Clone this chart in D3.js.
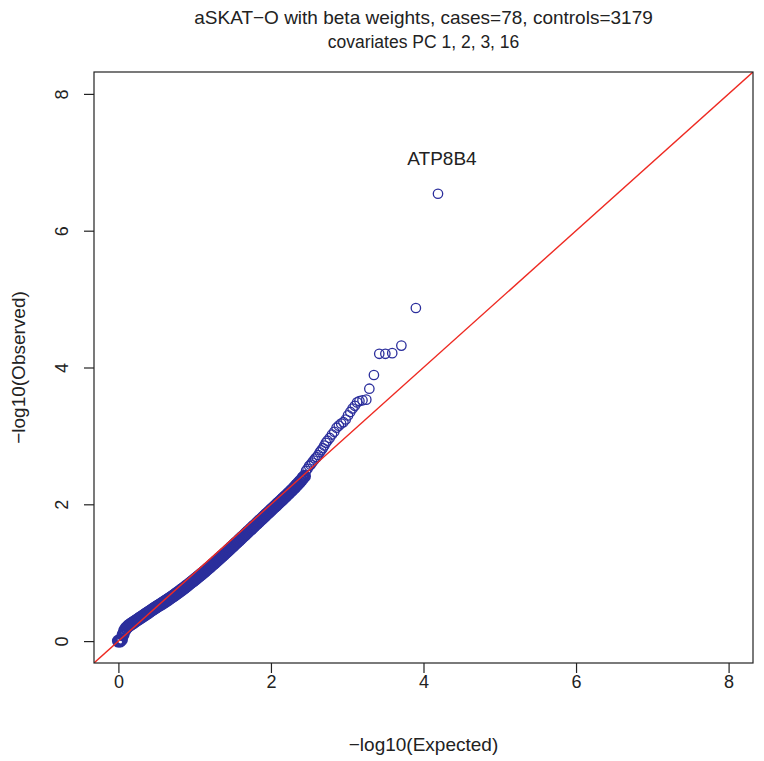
<!DOCTYPE html>
<html>
<head>
<meta charset="utf-8">
<script src="https://cdn.jsdelivr.net/npm/d3@7/dist/d3.min.js"></script>
<style>
  html, body { margin: 0; padding: 0; background: #fff; }
  svg { display: block; }
  text { font-family: "Liberation Sans", Arial, Helvetica, sans-serif; fill: #222; }
  .axis path, .axis line { stroke: #222; stroke-width: 1.2px; }
  .axis text { font-size: 18px; fill: #222; }
</style>
</head>
<body>
<svg id="svg"></svg>
<script>
// dense part of the curve
var denseExpected = [
  0.00, 0.02, 0.04, 0.06, 0.08, 0.10, 0.12, 0.14, 0.16, 0.18,
  0.20, 0.22, 0.24, 0.26, 0.28, 0.30, 0.32, 0.34, 0.36, 0.38,
  0.40, 0.42, 0.44, 0.46, 0.48, 0.50, 0.52, 0.54, 0.56, 0.58,
  0.60, 0.62, 0.64, 0.66, 0.68, 0.70, 0.72, 0.74, 0.76, 0.78,
  0.80, 0.82, 0.84, 0.86, 0.88, 0.90, 0.92, 0.94, 0.96, 0.98,
  1.00, 1.02, 1.04, 1.06, 1.08, 1.10, 1.12, 1.14, 1.16, 1.18,
  1.20, 1.22, 1.24, 1.26, 1.28, 1.30, 1.32, 1.34, 1.36, 1.38,
  1.40, 1.42, 1.44, 1.46, 1.48, 1.50, 1.52, 1.54, 1.56, 1.58,
  1.60, 1.62, 1.64, 1.66, 1.68, 1.70, 1.72, 1.74, 1.76, 1.78,
  1.80, 1.82, 1.84, 1.86, 1.88, 1.90, 1.92, 1.94, 1.96, 1.98,
  2.00, 2.02, 2.04, 2.06, 2.08, 2.10, 2.12, 2.14, 2.16, 2.18,
  2.20, 2.22, 2.24, 2.26, 2.28, 2.30, 2.32, 2.34, 2.36, 2.38,
  2.40, 2.42, 2.44
];
var denseObserved = [
  0.000, 0.000, 0.020, 0.090, 0.150, 0.185, 0.210, 0.230, 0.245, 0.260,
  0.275, 0.290, 0.305, 0.320, 0.335, 0.350, 0.365, 0.380, 0.395, 0.410,
  0.425, 0.440, 0.455, 0.470, 0.485, 0.500, 0.514, 0.528, 0.542, 0.556,
  0.570, 0.585, 0.600, 0.615, 0.630, 0.645, 0.661, 0.677, 0.693, 0.709,
  0.725, 0.742, 0.759, 0.776, 0.793, 0.810, 0.828, 0.846, 0.864, 0.882,
  0.900, 0.918, 0.936, 0.954, 0.972, 0.990, 1.009, 1.028, 1.047, 1.066,
  1.085, 1.105, 1.125, 1.145, 1.165, 1.185, 1.205, 1.225, 1.245, 1.265,
  1.285, 1.306, 1.327, 1.348, 1.369, 1.390, 1.411, 1.432, 1.453, 1.474,
  1.495, 1.516, 1.537, 1.558, 1.579, 1.600, 1.621, 1.642, 1.663, 1.684,
  1.705, 1.726, 1.747, 1.768, 1.789, 1.810, 1.831, 1.852, 1.873, 1.894,
  1.915, 1.936, 1.957, 1.978, 1.999, 2.020, 2.041, 2.062, 2.083, 2.104,
  2.125, 2.147, 2.169, 2.191, 2.213, 2.235, 2.259, 2.283, 2.307, 2.331,
  2.355, 2.385, 2.410
];
// upper tail, single circles
var tailExpected = [
  2.46, 2.48, 2.50, 2.52, 2.54, 2.56, 2.58, 2.60, 2.62, 2.64,
  2.66, 2.68, 2.70, 2.72, 2.74, 2.77, 2.80, 2.83, 2.86, 2.89,
  2.92, 2.95, 2.98, 3.01, 3.04, 3.07, 3.10, 3.13, 3.16, 3.20,
  3.25, 3.29, 3.35, 3.42, 3.50, 3.59, 3.71, 3.90, 4.19
];
var tailObserved = [
  2.49, 2.52, 2.56, 2.58, 2.61, 2.64, 2.67, 2.69, 2.72, 2.76,
  2.79, 2.82, 2.86, 2.90, 2.93, 2.97, 3.02, 3.06, 3.12, 3.15,
  3.18, 3.20, 3.24, 3.30, 3.35, 3.40, 3.44, 3.49, 3.51, 3.52,
  3.53, 3.69, 3.89, 4.20, 4.20, 4.21, 4.32, 4.87, 6.54
];
var xTicks = [0, 2, 4, 6, 8];
var yTicks = [0, 2, 4, 6, 8];
var titleLines = ["aSKAT\u2212O with beta weights, cases=78, controls=3179", "covariates PC 1, 2, 3, 16"];
var topGene = { name: "ATP8B4", expected: 4.19, observed: 6.54 };

var W = 764, H = 761;
var margin = { top: 72, right: 11, bottom: 98, left: 94 };
var width = W - margin.left - margin.right,
    height = H - margin.top - margin.bottom;

var svg = d3.select("#svg").attr("width", W).attr("height", H);

var x = d3.scaleLinear().domain([-0.32, 8.32]).range([0, width]);
var y = d3.scaleLinear().domain([-0.32, 8.32]).range([height, 0]);

var g = svg.append("g").attr("transform", "translate(" + margin.left + "," + margin.top + ")");

svg.append("defs").append("clipPath").attr("id", "clip")
  .append("rect").attr("width", width).attr("height", height);

var dense = denseExpected.map(function (e, i) { return { e: e, o: denseObserved[i] }; });
var tail = tailExpected.map(function (e, i) { return { e: e, o: tailObserved[i] }; });

var plot = g.append("g").attr("clip-path", "url(#clip)");
var blue = "#2b2e9c";

// thousands of overlapping rings in the original, so the low part reads as a solid band
plot.append("g").selectAll("circle").data(dense).enter()
  .append("circle")
  .attr("cx", function (d) { return x(d.e); })
  .attr("cy", function (d) { return y(d.o); })
  .attr("r", 5.1)
  .attr("fill", "none")
  .attr("stroke", blue)
  .attr("stroke-width", 2.8);

plot.append("g").selectAll("circle").data(tail).enter()
  .append("circle")
  .attr("cx", function (d) { return x(d.e); })
  .attr("cy", function (d) { return y(d.o); })
  .attr("r", 4.7)
  .attr("fill", "none")
  .attr("stroke", blue)
  .attr("stroke-width", 1.3);

// y = x reference line
plot.append("line")
  .attr("x1", x(-0.32)).attr("y1", y(-0.32))
  .attr("x2", x(8.32)).attr("y2", y(8.32))
  .attr("stroke", "#ee2a22")
  .attr("stroke-width", 1.4);

g.append("text")
  .attr("x", x(topGene.expected) + 4)
  .attr("y", y(topGene.observed) - 29)
  .attr("text-anchor", "middle")
  .style("font-size", "19px")
  .text(topGene.name);

// box
g.append("rect")
  .attr("width", width).attr("height", height)
  .attr("fill", "none").attr("stroke", "#222").attr("stroke-width", 1.2);

var xAxis = g.append("g").attr("class", "axis")
  .attr("transform", "translate(0," + height + ")")
  .call(d3.axisBottom(x).tickValues(xTicks).tickSize(10).tickPadding(2).tickFormat(d3.format("d")));
xAxis.select(".domain").remove();

var yAxis = g.append("g").attr("class", "axis")
  .call(d3.axisLeft(y).tickValues(yTicks).tickSize(10).tickPadding(6).tickFormat(d3.format("d")));
yAxis.select(".domain").remove();
yAxis.selectAll("text")
  .attr("x", 0).attr("dy", 0).attr("y", 0)
  .attr("text-anchor", "middle")
  .attr("transform", "translate(-26,0) rotate(-90)");

svg.append("text")
  .attr("x", margin.left + width / 2).attr("y", 24)
  .attr("text-anchor", "middle")
  .style("font-size", "19px")
  .text(titleLines[0]);
svg.append("text")
  .attr("x", margin.left + width / 2).attr("y", 48)
  .attr("text-anchor", "middle")
  .style("font-size", "17.5px")
  .text(titleLines[1]);

svg.append("text")
  .attr("x", margin.left + width / 2).attr("y", 751)
  .attr("text-anchor", "middle")
  .style("font-size", "19px")
  .text("\u2212log10(Expected)");

svg.append("text")
  .attr("transform", "translate(25," + (margin.top + height / 2) + ") rotate(-90)")
  .attr("text-anchor", "middle")
  .style("font-size", "19px")
  .text("\u2212log10(Observed)");
</script>
</body>
</html>
